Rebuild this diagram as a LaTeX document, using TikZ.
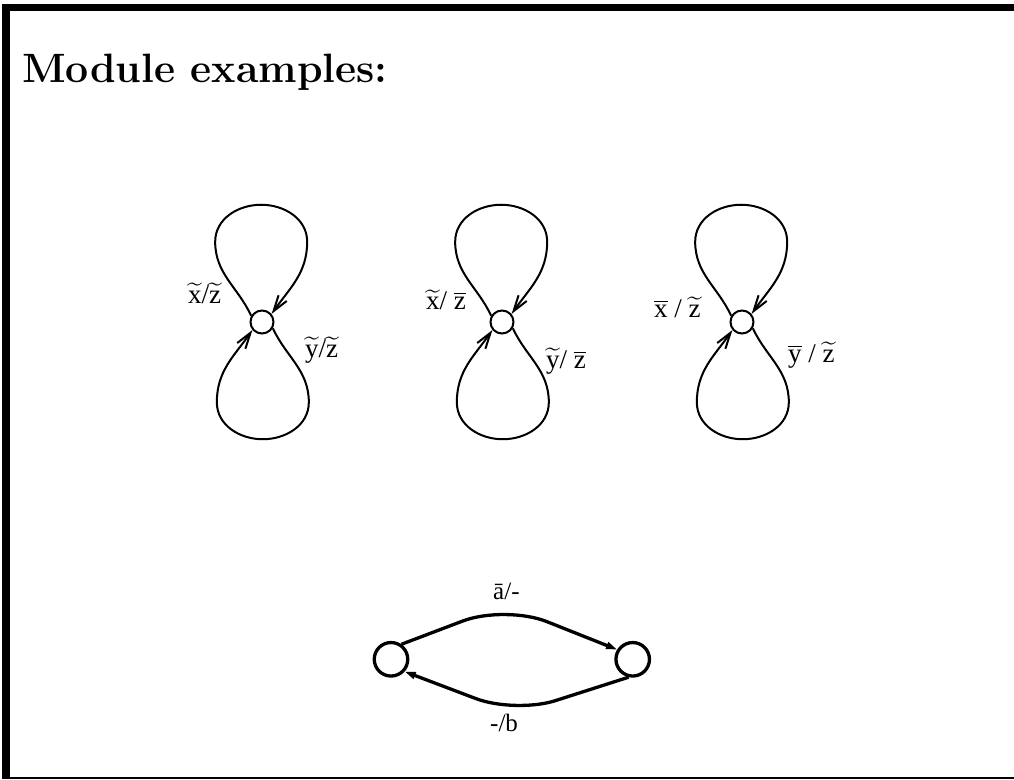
\documentclass[tikz,border=0pt]{standalone}
\usepackage{fontspec}
\DeclareFontShape{OMX}{cmex}{m}{n}{<->cmex10}{}
\newfontfamily\tmsfont{Liberation Serif}
\usetikzlibrary{arrows.meta}
\begin{document}
\begin{tikzpicture}[x=1pt,y=1pt,
  lbl/.style={font=\tmsfont\fontsize{27}{31}\selectfont, inner sep=0pt, anchor=base west},
  st/.style={circle, draw, line width=2pt, minimum size=23pt, inner sep=0pt},
  bst/.style={circle, draw, line width=3.3pt, minimum size=33.5pt, inner sep=0pt},
  loopline/.style={line width=2pt, -{Straight Barb[length=16pt,width=10pt]}},
  arcline/.style={line width=3.3pt, -{Triangle[length=11pt,width=7pt]}}]
\useasboundingbox (0,0) rectangle (1014,779);
% frame
\fill (2,768) rectangle (1014,775);
\fill (2,0) rectangle (10,775);
\fill (2,0) rectangle (1014,2);
% title
\node[anchor=base west, inner sep=0pt, font=\fontsize{41}{48}\selectfont\bfseries] (title) at (22,696) {Module examples:};
% loop modules
\foreach \c/\nm in {262/n1, 502/n2, 742/n3}{
  \node[st] (\nm) at (\c,457) {};
  \draw[loopline] (\nm.150) to[out=115,in=270] ++(-36,74) to[out=90,in=180] ++(46,37)
     to[out=0,in=90] ++(46,-37) to[out=270,in=55] (\nm.40);
  \draw[loopline] (\nm.330) to[out=295,in=90] ++(36,-74) to[out=270,in=0] ++(-46,-37)
     to[out=180,in=270] ++(-46,37) to[out=90,in=235] (\nm.220);
}
\node[lbl] (l1a) at (188,475.7) {$\widetilde{\mbox{x}}$/$\widetilde{\mbox{z}}$};
\node[lbl] (l1b) at (305,421.5) {$\widetilde{\mbox{y}}$/$\widetilde{\mbox{z}}$};
\node[lbl] (l2a) at (426,469) {$\widetilde{\mbox{x}}$/ $\overline{\mbox{z}}$};
\node[lbl] (l2b) at (546,410.7) {$\widetilde{\mbox{y}}$/ $\overline{\mbox{z}}$};
\node[lbl] (l3a) at (654,461.7) {$\overline{\mbox{x}}$ / $\widetilde{\mbox{z}}$};
\node[lbl] (l3b) at (788,416.7) {$\overline{\mbox{y}}$ / $\widetilde{\mbox{z}}$};
% two-state module
\node[bst] (A) at (391,119.7) {};
\node[bst] (B) at (632.7,119.7) {};
\coordinate (tb) at (505,174);
\coordinate (bb) at (515.2,65.5);
\draw[arcline, rounded corners=45pt] (A.55) -- (tb) -- (B.148);
\draw[arcline, rounded corners=42pt] (B.257) -- (bb) -- (A.-42);
\node[lbl, font=\tmsfont\fontsize{25}{30}\selectfont] (la) at (493,179.7) {\={a}/-};
\node[lbl, font=\tmsfont\fontsize{25}{30}\selectfont] (lb) at (490,47.3) {-/b};
\end{tikzpicture}
\end{document}
